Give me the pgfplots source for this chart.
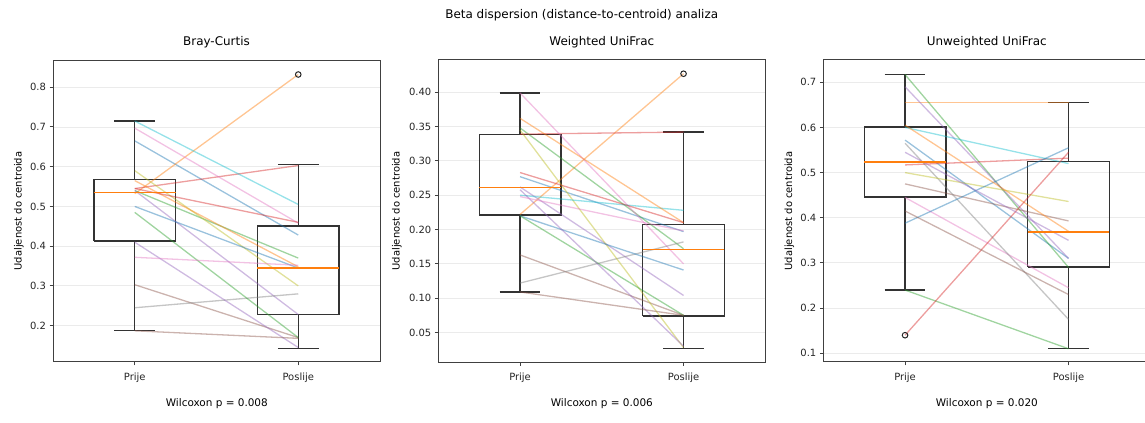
\documentclass[border=0pt]{standalone}
\usepackage{fontspec}
\setmainfont{DejaVu Sans}
\usepackage{pgfplots}
\pgfplotsset{compat=1.18}

% matplotlib tab10
\definecolor{tBlue}{HTML}{1F77B4}
\definecolor{tOrange}{HTML}{FF7F0E}
\definecolor{tGreen}{HTML}{2CA02C}
\definecolor{tRed}{HTML}{D62728}
\definecolor{tPurple}{HTML}{9467BD}
\definecolor{tBrown}{HTML}{8C564B}
\definecolor{tPink}{HTML}{E377C2}
\definecolor{tGray}{HTML}{7F7F7F}
\definecolor{tOlive}{HTML}{BCBD22}
\definecolor{tCyan}{HTML}{17BECF}

% paired subject line
\newcommand{\pair}[3]{\addplot[#1, opacity=0.45, line width=1.3bp] coordinates {(1,#2) (2,#3)};}
% box at position 1 / 2: lower whisker, q1, q3, upper whisker
\newcommand{\bxA}[4]{%
  \addplot[bl] coordinates {(0.75,#2) (1.25,#2) (1.25,#3) (0.75,#3) (0.75,#2)};
  \addplot[bl] coordinates {(1,#2) (1,#1)};
  \addplot[bl] coordinates {(1,#3) (1,#4)};
  \addplot[bl] coordinates {(0.875,#1) (1.125,#1)};
  \addplot[bl] coordinates {(0.875,#4) (1.125,#4)};}
\newcommand{\bxB}[4]{%
  \addplot[bl] coordinates {(1.75,#2) (2.25,#2) (2.25,#3) (1.75,#3) (1.75,#2)};
  \addplot[bl] coordinates {(2,#2) (2,#1)};
  \addplot[bl] coordinates {(2,#3) (2,#4)};
  \addplot[bl] coordinates {(1.875,#1) (2.125,#1)};
  \addplot[bl] coordinates {(1.875,#4) (2.125,#4)};}
% medians: Prije, Poslije
\newcommand{\meds}[2]{%
  \addplot[draw=tOrange, line width=1.5bp, mark=none] coordinates {(0.75,#1) (1.25,#1)};
  \addplot[draw=tOrange, line width=1.5bp, mark=none] coordinates {(1.75,#2) (2.25,#2)};}

\pgfplotsset{
  panel/.style={
    scale only axis, width=327bp, height=302bp, anchor=south west,
    xmin=0.5, xmax=2.5, xtick={1,2}, xticklabels={Prije,Poslije},
    tick align=outside, tick pos=left, major tick length=3.5bp,
    tick style={black!75, line width=1bp},
    axis line style={black!75, line width=1bp},
    ymajorgrids, major grid style={black!8, line width=0.9bp},
    /pgf/number format/assume math mode=true,
    tick label style={font=\fontsize{10}{12}\selectfont, text=black!85},
    xticklabel style={yshift=-4bp},
    yticklabel style={/pgf/number format/fixed, /pgf/number format/zerofill},
    title style={at={(0.5,1)}, anchor=base, yshift=8.3bp, inner sep=0pt,
      font=\fontsize{12}{14}\selectfont},
    ylabel={Udaljenost do centroida},
    ylabel style={font=\fontsize{10.5}{12}\selectfont},
    every axis y label/.style={at={(axis description cs:-0.104,0.5)}, rotate=90, anchor=center},
  },
  bl/.style={black!80, line width=1.3bp, mark=none},
  outl/.style={only marks, mark=o, mark size=2.8bp, mark options={line width=1bp, draw=black!85}},
}

\begin{document}
\begin{tikzpicture}
\useasboundingbox (0,0) rectangle (1145bp,423bp);

\node[anchor=base, font=\fontsize{12}{14}\selectfont] at (581.7bp,404.7bp) {Beta dispersion (distance-to-centroid) analiza};

% ---- Bray-Curtis
\begin{axis}[panel, at={(53bp,61bp)}, title={Bray-Curtis},
  ymin=0.1085, ymax=0.8685, ytick={0.2,0.3,...,0.81},
  yticklabel style={/pgf/number format/precision=1}]
\bxA{0.187}{0.413}{0.567}{0.715}
\bxB{0.143}{0.228}{0.451}{0.605}
\addplot[outl] coordinates {(2,0.832)};
\pair{tBlue}{0.665}{0.428}
\pair{tOrange}{0.532}{0.832}
\pair{tGreen}{0.540}{0.370}
\pair{tRed}{0.545}{0.603}
\pair{tPurple}{0.540}{0.228}
\pair{tBrown}{0.303}{0.170}
\pair{tPink}{0.697}{0.458}
\pair{tGray}{0.245}{0.280}
\pair{tOlive}{0.590}{0.300}
\pair{tCyan}{0.715}{0.505}
\pair{tBlue}{0.500}{0.345}
\pair{tOrange}{0.565}{0.348}
\pair{tGreen}{0.485}{0.170}
\pair{tRed}{0.545}{0.460}
\pair{tPurple}{0.410}{0.145}
\pair{tBrown}{0.187}{0.168}
\pair{tPink}{0.372}{0.352}
\meds{0.535}{0.345}
\end{axis}

% ---- Weighted UniFrac
\begin{axis}[panel, at={(438.3bp,61bp)}, title={Weighted UniFrac},
  ymin=0.007, ymax=0.447, ytick={0.05,0.10,...,0.41},
  yticklabel style={/pgf/number format/precision=2},
  every axis y label/.style={at={(axis description cs:-0.127,0.5)}, rotate=90, anchor=center}]
\bxA{0.109}{0.221}{0.338}{0.399}
\bxB{0.027}{0.074}{0.207}{0.342}
\addplot[outl] coordinates {(2,0.427)};
\pair{tBlue}{0.277}{0.197}
\pair{tOrange}{0.222}{0.427}
\pair{tGreen}{0.348}{0.172}
\pair{tRed}{0.339}{0.342}
\pair{tPurple}{0.262}{0.104}
\pair{tBrown}{0.163}{0.075}
\pair{tPink}{0.399}{0.150}
\pair{tGray}{0.122}{0.182}
\pair{tOlive}{0.345}{0.028}
\pair{tCyan}{0.250}{0.228}
\pair{tBlue}{0.220}{0.141}
\pair{tOrange}{0.362}{0.210}
\pair{tGreen}{0.220}{0.075}
\pair{tRed}{0.283}{0.210}
\pair{tPurple}{0.258}{0.030}
\pair{tBrown}{0.109}{0.075}
\pair{tPink}{0.248}{0.198}
\meds{0.261}{0.171}
\end{axis}

% ---- Unweighted UniFrac
\begin{axis}[panel, at={(823.3bp,61bp)}, title={Unweighted UniFrac},
  ymin=0.0807, ymax=0.7493, ytick={0.1,0.2,...,0.71},
  yticklabel style={/pgf/number format/precision=1}]
\bxA{0.240}{0.446}{0.601}{0.717}
\bxB{0.110}{0.291}{0.524}{0.655}
\addplot[outl] coordinates {(1,0.140)};
\pair{tBlue}{0.572}{0.310}
\pair{tOrange}{0.655}{0.655}
\pair{tGreen}{0.717}{0.290}
\pair{tRed}{0.517}{0.532}
\pair{tPurple}{0.690}{0.310}
\pair{tBrown}{0.475}{0.393}
\pair{tPink}{0.445}{0.245}
\pair{tGray}{0.565}{0.175}
\pair{tOlive}{0.500}{0.436}
\pair{tCyan}{0.600}{0.520}
\pair{tBlue}{0.388}{0.555}
\pair{tOrange}{0.605}{0.370}
\pair{tGreen}{0.240}{0.110}
\pair{tRed}{0.140}{0.545}
\pair{tPurple}{0.545}{0.350}
\pair{tBrown}{0.415}{0.230}
\meds{0.524}{0.368}
\end{axis}

\node[anchor=base, font=\fontsize{10.5}{12}\selectfont] at (216.8bp,16.3bp) {Wilcoxon p = 0.008};
\node[anchor=base, font=\fontsize{10.5}{12}\selectfont] at (601.8bp,16.3bp) {Wilcoxon p = 0.006};
\node[anchor=base, font=\fontsize{10.5}{12}\selectfont] at (986.8bp,16.3bp) {Wilcoxon p = 0.020};
\end{tikzpicture}
\end{document}
